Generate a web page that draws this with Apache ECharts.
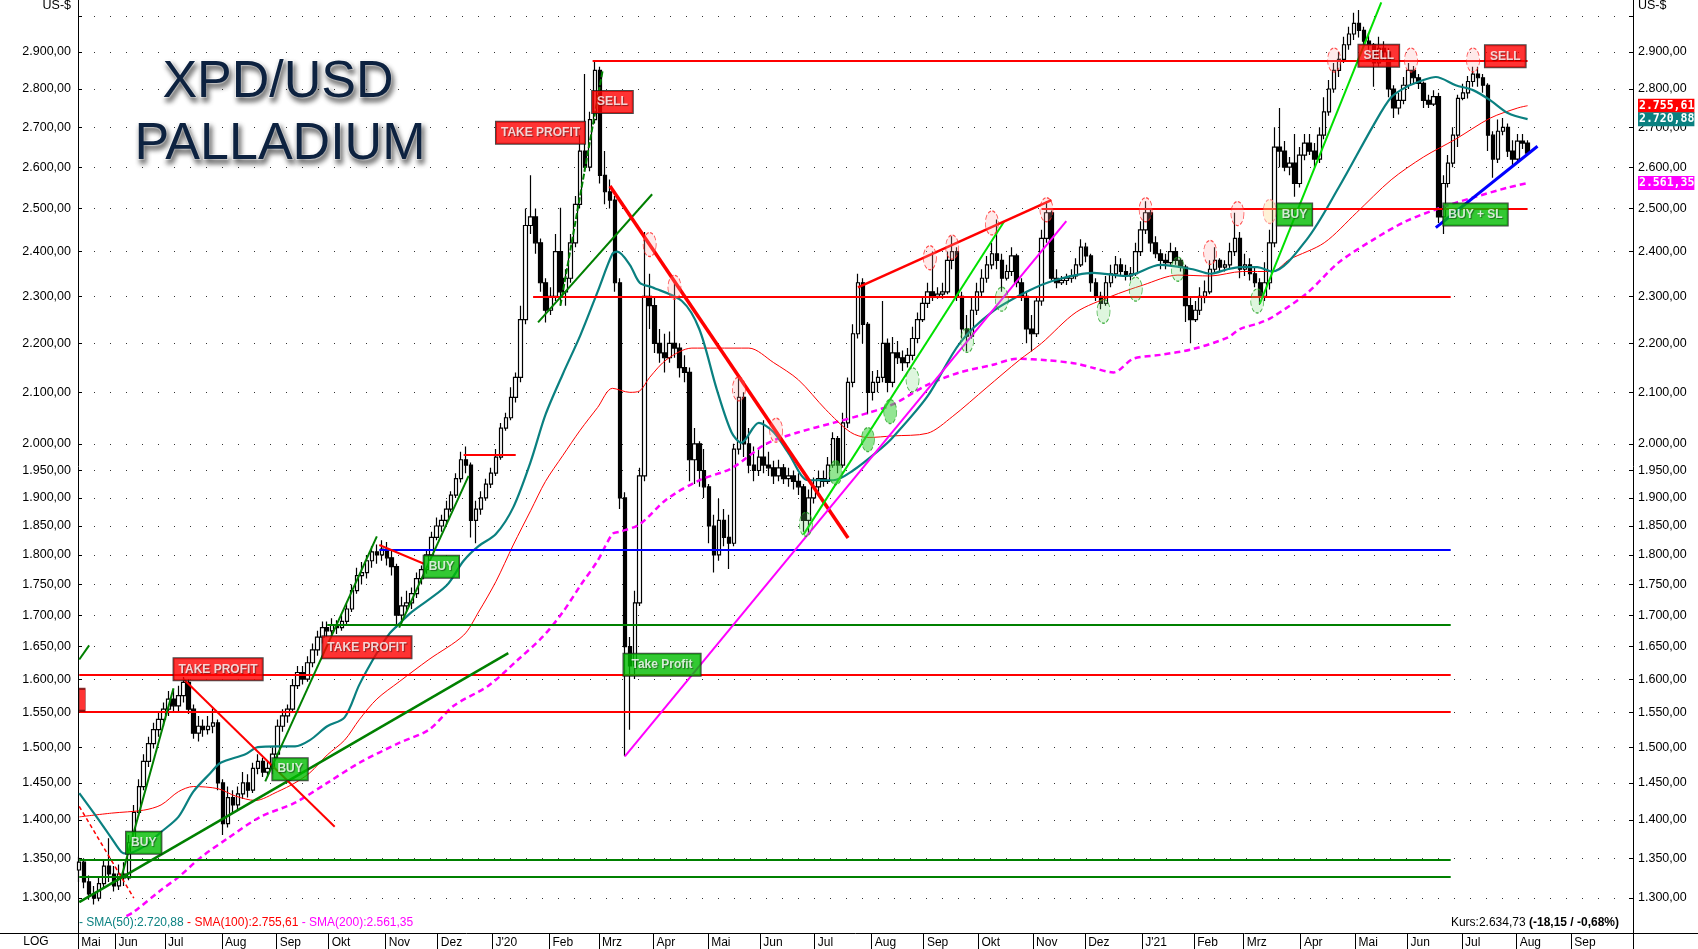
<!DOCTYPE html>
<html><head><meta charset="utf-8">
<script src="https://cdn.jsdelivr.net/npm/echarts@6/dist/echarts.min.js"></script>
<style>html,body{margin:0;padding:0;background:#fff}#c{width:1698px;height:949px}</style>
</head><body><div id="c"></div>
<script>
// ---------------- DATA ----------------
const firstDay = '2019-05-13';      // first trading day on the axis
const totalDays = 627;              // weekdays shown on the axis (to early Oct 2021)
const barStep = 2;                  // each candle below = two trading days
const segStarts = [0, 130, 252, 372, 472];
// [open, close, low, high]
const segA = [[1335,1345,1320,1352],[1345,1320,1312,1350],[1320,1305,1298,1328],[1305,1300,1292,1315],[1300,1318,1296,1325],[1318,1340,1312,1348],[1340,1330,1320,1376],[1330,1315,1308,1340],[1315,1330,1310,1342],[1330,1325,1315,1345],
[1325,1370,1322,1380],[1370,1410,1365,1420],[1410,1445,1405,1455],[1445,1480,1440,1490],[1480,1505,1472,1515],[1505,1525,1498,1535],[1525,1540,1515,1550],[1540,1555,1530,1565],[1555,1570,1545,1582],[1570,1560,1550,1585],
[1560,1575,1552,1590],[1575,1595,1565,1603],[1595,1555,1548,1600],[1555,1520,1512,1562],[1520,1530,1508,1545],[1530,1525,1515,1540],[1525,1530,1518,1545],[1530,1535,1520,1556],[1535,1450,1440,1540],[1450,1395,1380,1455],
[1395,1430,1390,1445],[1430,1420,1410,1440],[1420,1435,1412,1445],[1435,1450,1428,1465],[1450,1440,1430,1462],[1440,1470,1436,1478],[1470,1480,1462,1490],[1480,1465,1458,1485],[1465,1470,1458,1480],[1470,1490,1462,1500],
[1490,1530,1485,1540],[1530,1545,1522,1555],[1545,1555,1535,1562],[1555,1590,1550,1600],[1590,1610,1585,1620],[1610,1600,1592,1620],[1600,1625,1596,1635],[1625,1645,1618,1655],[1645,1665,1636,1675],[1665,1680,1655,1690],
[1680,1675,1665,1690],[1675,1685,1668,1695],[1685,1680,1670,1692],[1680,1690,1675,1700],[1690,1710,1685,1720],[1710,1740,1705,1750],[1740,1765,1735,1778],[1765,1770,1750,1788],[1770,1790,1760,1800],[1790,1805,1778,1815],
[1805,1800,1785,1818],[1800,1810,1790,1825],[1810,1795,1782,1822],[1795,1780,1765,1810],[1780,1700,1680,1785]];
const segB = [[1700,1715,1685,1730],[1715,1720,1705,1740],[1720,1735,1710,1745],[1735,1760,1728,1770],[1760,1775,1750,1782],[1775,1800,1768,1810],[1800,1830,1795,1840],[1830,1850,1825,1865],[1850,1860,1840,1870],[1860,1880,1852,1895],
[1880,1905,1875,1912],[1905,1935,1900,1945],[1935,1970,1928,1985],[1970,1960,1945,1995],[1960,1860,1830,1965],[1860,1880,1820,1895],[1880,1900,1870,1912],[1900,1925,1895,1935],[1925,1945,1918,1955],[1945,1975,1940,1990],
[1975,2030,1970,2040],[2030,2050,2025,2060],[2050,2090,2045,2110],[2090,2130,2080,2140],[2130,2250,2120,2280],[2250,2460,2240,2500],[2460,2480,2440,2580],[2480,2420,2395,2500],[2420,2330,2310,2430],[2330,2270,2244,2340],
[2270,2300,2260,2320],[2300,2400,2290,2440],[2400,2310,2280,2502],[2310,2340,2280,2360],[2340,2420,2330,2440],[2420,2510,2410,2530],[2510,2640,2500,2680],[2640,2600,2590,2840],[2600,2720,2590,2740],[2720,2850,2710,2875],
[2850,2580,2560,2860],[2580,2540,2510,2640],[2540,2520,2500,2570],[2520,2330,2310,2530],[2330,1900,1880,2340],[1900,1650,1487,1910],[1650,1620,1525,1665],[1620,1720,1600,1740],[1720,1940,1715,1955],[1940,2300,1930,2445],
[2300,2280,2230,2350],[2280,2200,2180,2300],[2200,2180,2160,2230],[2180,2170,2140,2220],[2170,2200,2160,2225],[2200,2190,2170,2335],[2190,2150,2130,2200],[2150,2140,2120,2175],[2140,1970,1930,2150],[1970,2000,1925,2030],
[2000,1950,1920,2005]];
const segC = [[1950,1920,1900,1990],[1920,1850,1820,1925],[1850,1800,1770,1870],[1800,1860,1790,1898],[1860,1830,1815,1880],[1830,1820,1776,1870],[1820,1990,1815,2000],[1990,2090,1980,2130],[2090,2000,1975,2100],[2000,1960,1945,2030],
[1960,1950,1930,1995],[1950,1975,1940,1990],[1975,1960,1945,2045],[1960,1955,1940,1985],[1955,1940,1925,1968],[1940,1955,1930,1970],[1955,1935,1925,1962],[1935,1940,1920,1955],[1940,1930,1915,1950],[1930,1920,1905,1945],
[1920,1860,1840,1925],[1860,1900,1835,1915],[1900,1920,1890,1937],[1920,1935,1910,1950],[1935,1930,1920,1950],[1930,1960,1925,1975],[1960,2010,1955,2022],[2010,1960,1945,2015],[1960,2040,1955,2060],[2040,2120,2030,2130],
[2120,2220,2110,2240],[2220,2330,2210,2350],[2330,2240,2200,2340],[2240,2100,2057,2245],[2100,2120,2084,2143],[2120,2130,2100,2145],[2130,2200,2120,2290],[2200,2120,2100,2210],[2120,2180,2110,2213],[2180,2170,2157,2205],
[2170,2160,2143,2185],[2160,2175,2150,2190],[2175,2210,2165,2235],[2210,2250,2200,2265],[2250,2285,2245,2300],[2285,2310,2275,2330],[2310,2300,2290,2400],[2300,2305,2295,2320],[2305,2310,2295,2330],[2310,2380,2305,2400],
[2380,2400,2360,2435],[2400,2300,2290,2410],[2300,2230,2210,2310],[2230,2215,2183,2260],[2215,2270,2210,2300],[2270,2310,2260,2330],[2310,2340,2300,2360],[2340,2370,2330,2390],[2370,2395,2360,2420],[2395,2380,2360,2474]];
const segD = [[2380,2340,2310,2395],[2340,2355,2335,2370],[2355,2390,2345,2410],[2390,2330,2320,2395],[2330,2300,2290,2340],[2300,2230,2200,2310],[2230,2220,2183,2260],[2220,2290,2213,2300],[2290,2430,2280,2450],[2430,2490,2420,2517],
[2490,2340,2335,2495],[2340,2330,2318,2360],[2330,2335,2325,2345],[2335,2340,2325,2350],[2340,2345,2330,2360],[2345,2370,2338,2385],[2370,2410,2365,2428],[2410,2390,2376,2420],[2390,2330,2310,2395],[2330,2300,2290,2340],
[2300,2285,2272,2310],[2285,2330,2280,2345],[2330,2350,2320,2370],[2350,2370,2340,2390],[2370,2355,2345,2385],[2355,2345,2335,2370],[2345,2350,2335,2365],[2350,2400,2345,2420],[2400,2450,2390,2470],[2450,2490,2440,2517],
[2490,2420,2400,2500],[2420,2395,2385,2435],[2395,2380,2360,2405],[2380,2375,2360,2395],[2375,2400,2370,2420],[2400,2380,2370,2410],[2380,2365,2355,2385],[2365,2280,2245,2370],[2280,2250,2200,2300],[2250,2270,2245,2290],
[2270,2300,2260,2320],[2300,2310,2285,2335],[2310,2360,2305,2380],[2360,2380,2350,2410],[2380,2365,2355,2385],[2365,2370,2355,2380],[2370,2400,2360,2420],[2400,2430,2390,2490],[2430,2360,2340,2445],[2360,2370,2345,2395]];
const segE = [[2370,2350,2335,2385],[2350,2330,2320,2365],[2330,2300,2282,2340],[2300,2330,2290,2376],[2330,2420,2315,2450],[2420,2650,2410,2700],[2650,2640,2600,2750],[2640,2600,2590,2665],[2600,2610,2580,2625],[2610,2560,2528,2683],
[2560,2630,2550,2650],[2630,2660,2617,2683],[2660,2640,2630,2683],[2640,2620,2600,2660],[2620,2680,2610,2700],[2680,2740,2670,2778],[2740,2800,2730,2824],[2800,2850,2790,2870],[2850,2880,2832,2900],[2880,2920,2870,2942],
[2920,2950,2906,2970],[2950,2980,2933,3010],[2980,2960,2940,3018],[2960,2930,2914,2970],[2930,2920,2906,2952],[2920,2870,2806,2925],[2870,2910,2860,2942],[2910,2900,2878,2930],[2900,2800,2778,2910],[2800,2750,2724,2810],
[2750,2770,2733,2790],[2770,2810,2760,2832],[2810,2850,2800,2870],[2850,2830,2815,2862],[2830,2815,2800,2840],[2815,2770,2750,2820],[2770,2760,2750,2785],[2760,2780,2755,2797],[2780,2480,2466,2790],[2480,2560,2440,2580],
[2560,2610,2550,2630],[2610,2680,2600,2700],[2680,2775,2650,2785],[2775,2790,2770,2814],[2790,2820,2775,2835],[2820,2840,2806,2860],[2840,2830,2806,2860],[2830,2810,2790,2840],[2810,2680,2640,2815],[2680,2620,2574,2690],
[2620,2690,2610,2720],[2690,2700,2680,2724],[2700,2640,2625,2710],[2640,2620,2600,2667],[2620,2665,2610,2683],[2665,2660,2645,2683],[2660,2635,2630,2667]];

// moving averages: [dayIndex, value]
const sma50 = [[0,1436],[7,1404],[13,1376],[17,1358],[19,1356],[26,1365],[33,1384],[40,1404],[46,1438],[53,1464],[57,1478],[67,1490],[72,1500],[80,1501],[87,1501],[93,1510],[100,1530],[107,1543],[113,1592],[120,1640],[125,1670],[129,1686],[134,1705],[148,1748],[155,1790],[161,1815],[168,1836],[175,1883],[182,1966],[188,2056],[195,2137],[202,2216],[209,2310],[215,2395],[217,2400],[222,2370],[226,2330],[231,2320],[243,2290],[250,2230],[257,2107],[263,2022],[267,2002],[274,2040],[280,2022],[286,1982],[294,1932],[304,1932],[312,1950],[323,1990],[328,2012],[342,2092],[355,2200],[368,2266],[382,2310],[393,2335],[409,2352],[422,2345],[436,2370],[449,2360],[456,2350],[463,2360],[468,2365],[475,2365],[481,2355],[495,2428],[508,2552],[522,2707],[529,2778],[535,2805],[542,2824],[547,2832],[555,2810],[562,2797],[569,2770],[576,2737],[584,2721]];
const sma100 = [[0,1404],[13,1409],[26,1413],[33,1420],[40,1438],[46,1445],[56,1442],[63,1432],[71,1426],[80,1438],[87,1450],[93,1464],[100,1489],[107,1510],[113,1540],[120,1570],[129,1596],[141,1630],[155,1668],[161,1705],[168,1755],[175,1817],[182,1877],[188,1930],[195,1978],[202,2026],[209,2070],[215,2108],[222,2100],[226,2103],[230,2130],[237,2167],[247,2190],[257,2190],[270,2190],[280,2160],[290,2125],[301,2066],[311,2022],[318,2012],[328,2015],[342,2020],[352,2052],[366,2110],[379,2165],[388,2200],[402,2266],[416,2300],[429,2325],[443,2347],[456,2345],[469,2355],[481,2355],[488,2382],[502,2420],[515,2490],[529,2569],[542,2625],[555,2670],[569,2724],[580,2750],[584,2756]];
const sma200 = [[19,1278],[22,1283],[33,1310],[40,1326],[49,1351],[60,1376],[73,1404],[87,1423],[100,1450],[113,1478],[129,1506],[141,1525],[151,1560],[165,1590],[177,1630],[187,1666],[195,1705],[202,1748],[209,1790],[215,1836],[218,1840],[226,1853],[237,1898],[250,1932],[263,1954],[277,2000],[290,2022],[304,2040],[315,2055],[328,2076],[342,2115],[355,2140],[368,2155],[378,2168],[390,2165],[402,2158],[409,2149],[417,2140],[425,2168],[436,2176],[449,2188],[463,2212],[468,2230],[476,2243],[481,2255],[495,2307],[508,2376],[522,2428],[535,2470],[549,2502],[562,2526],[576,2550],[584,2561]];
const smaLast = [2720.88, 2755.61, 2561.35];       // SMA50, SMA100, SMA200
const lastPrice = 2634.73, lastChange = -18.15, lastChangePct = -0.68;

// horizontal levels: [price, fromDay, toDay]
const hLevels = [[2875,207,584],[2500,388,584],[2300,183,553],[1808,121,553],[1685,100,553],[1607,0,553],[1551,0,553],[1348,0,553],[1326,0,553],[1980,155,176]];
// trend lines: [day1, price1, day2, price2]
const trends = [[0,1418,22,1300],[0,1630,4,1652],[0,1295,173,1640],[17,1326,38,1586],[42,1600,103,1391],[75,1452,120,1832],[121,1817,139,1785],[129,1680,157,1940],[185,2244,231,2534],[194,2280,211,2848],[214,2554,310,1829],[220,1487,398,2470],[292,1835,373,2470],[314,2320,392,2520],[476,2284,525,3040],[547,2455,588,2652]];
// signal boxes: [day, price, text]
const signals = [[26,1370,'BUY'],[56,1615,'TAKE PROFIT'],[85,1469,'BUY'],[116,1649,'TAKE PROFIT'],[146,1780,'BUY'],[186,2686,'TAKE PROFIT'],[215,2766,'SELL'],[235,1622,'Take Profit'],[490,2486,'BUY'],[524,2890,'SELL'],[563,2486,'BUY + SL'],[575,2888,'SELL']];
const peakMarks = [[230,2416],[240,2320],[266,2107],[281,2026],[343,2386],[352,2410],[368,2466],[390,2497],[430,2497],[456,2398],[467,2488],[506,2878],[537,2878],[562,2878]];
const entryMarks = [[480,2493]];
const troughStrong = [[305,1946],[318,2008],[327,2062]];
const troughLight = [[293,1853],[336,2125],[358,2206],[372,2294],[413,2268],[426,2316],[443,2360],[475,2290]];
const yTicks = [1300,1350,1400,1450,1500,1550,1600,1650,1700,1750,1800,1850,1900,1950,2000,2100,2200,2300,2400,2500,2600,2700,2800,2900,3000];
const yLabels = [1300,1350,1400,1450,1500,1550,1600,1650,1700,1750,1800,1850,1900,1950,2000,2100,2200,2300,2400,2500,2600,2700,2800,2900];
const unitLabelValue = 3032;
const yMin = 1257.6, yMax = 3046.6;
const monthNames = ['Jan','Feb','Mrz','Apr','Mai','Jun','Jul','Aug','Sep','Okt','Nov','Dez'];

// ---------------- BUILD ----------------
const dates = [];
{ let t = Date.UTC(2019,4,13);
  while (dates.length < totalDays) { const d = new Date(t); const w = d.getUTCDay();
    if (w !== 0 && w !== 6) dates.push(d.toISOString().slice(0,10)); t += 86400000; } }
const labelIdx = new Set([0]);
for (let i = 1; i < dates.length; i++) if (dates[i].slice(5,7) !== dates[i-1].slice(5,7) && i < 615) labelIdx.add(i);
const monthLabel = ds => { const m = +ds.slice(5,7); return m === 1 ? "J'" + ds.slice(2,4) : monthNames[m-1]; };
const de = (v, dec) => { const f = Math.abs(v).toFixed(dec); const [a,b] = f.split('.'); return (v<0?'-':'') + a.replace(/\B(?=(\d{3})+(?!\d))/g,'.') + (b!==undefined?','+b:''); };
const D = i => dates[Math.max(0, Math.min(totalDays-1, Math.round(i)))];

const candleRows = [];
[segA,segB,segC,segD,segE].forEach((seg,s) => seg.forEach((b,j) => candleRows.push([D(segStarts[s]+j*barStep), b[0], b[1], b[2], b[3]])));
const toLine = arr => arr.map(p => [D(p[0]), p[1]]);

const FONT = '"Liberation Sans", Arial, Helvetica, sans-serif';
const hColors = ['#ff0000','#ff0000','#ff0000','#0000ff','#008000','#ff0000','#ff0000','#008000','#008000','#ff0000'];
const trendStyle = [
  {color:'#ff0000',width:1.5,type:[4,3]},{color:'#008000',width:2},{color:'#008000',width:2.5},{color:'#008000',width:2},
  {color:'#ff0000',width:2},{color:'#008000',width:2},{color:'#ff0000',width:2},{color:'#008000',width:2},
  {color:'#008000',width:2},{color:'#008000',width:2,type:[6,2]},{color:'#ff0000',width:3.5},{color:'#ff00ff',width:2},
  {color:'#00e000',width:2},{color:'#ff0000',width:2.5},{color:'#00e000',width:2},{color:'#0000ff',width:3}];

const markLines = [];
hLevels.forEach((h,k) => markLines.push([{coord:[D(h[1]),h[0]], lineStyle:{color:hColors[k],width:2,type:'solid'}},{coord:[D(h[2]),h[0]]}]));
trends.forEach((t,k) => markLines.push([{coord:[D(t[0]),t[1]], lineStyle:{color:trendStyle[k].color,width:trendStyle[k].width,type:trendStyle[k].type||'solid'}},{coord:[D(t[2]),t[3]]}]));

const sigLabel = txt => {
  const green = txt.indexOf('BUY') === 0 || txt === 'Take Profit';
  return {show:true, position:'inside', formatter: txt, color:'#fff', fontWeight:'bold', fontSize:12, fontFamily:FONT,
    backgroundColor: green ? '#00bb00' : '#ff0000', borderColor:'#1a1a1a', borderWidth:1,
    padding: txt === 'Take Profit' ? [4,8,4,8] : [4,5,4,5], lineHeight:14,
    textShadowColor:'rgba(0,0,0,0.55)', textShadowBlur:1, textShadowOffsetX:1, textShadowOffsetY:1};
};
const ellipse = (data, fill, border) => ({type:'scatter', z:6, silent:true, symbol:'circle', symbolSize:[13,24], data: toLine(data),
  itemStyle:{color:fill, borderColor:border, borderType:'dashed', borderWidth:1}});

const yAxisBase = pos => ({type:'log', logBase:10, min:yMin, max:yMax, position:pos,
  axisLine:{show:true, lineStyle:{color:'#000', width:1}},
  axisTick:{show:true, inside:true, length:4, customValues: yTicks, lineStyle:{color:'#000'}},
  axisLabel:{customValues: yLabels.concat([unitLabelValue]), formatter: v => v > 3010 ? 'US-$' : de(v,2), margin: pos==='left'?7:5,
    fontSize:12.5, color:'#000', fontFamily:FONT},
  splitLine:{show: pos==='left', lineStyle:{color:'#333', width:1, type:[1,15]}}, minorTick:{show:false}, minorSplitLine:{show:false}});

const chart = echarts.init(document.getElementById('c'));
chart.setOption({
  animation:false, backgroundColor:'#fff', textStyle:{fontFamily:FONT},
  grid:{left:78, right:65, top:0, bottom:16, containLabel:false, outerBoundsMode:'none'},
  xAxis:{type:'category', data:dates, boundaryGap:true,
    axisLine:{show:true, lineStyle:{color:'#000'}},
    axisTick:{show:true, alignWithLabel:false, interval:(i)=>labelIdx.has(i), length:16, lineStyle:{color:'#000'}},
    axisLabel:{show:true, interval:(i)=>labelIdx.has(i), formatter:v=>monthLabel(v), align:'left', margin:4, fontSize:12, color:'#000', fontFamily:FONT, padding:[0,0,0,2]},
    splitLine:{show:false}},
  yAxis:[yAxisBase('left'), yAxisBase('right')],
  series:[
    {type:'candlestick', name:'XPD', data:candleRows, encode:{x:0, y:[1,2,3,4]}, barWidth:4, z:3,
      itemStyle:{color:'#ffffff', color0:'#000000', borderColor:'#000000', borderColor0:'#000000', borderWidth:1.2}},
    {type:'line', name:'SMA(200)', data:toLine(sma200), showSymbol:false, smooth:0.3, z:4, lineStyle:{color:'#ff00ff', width:2.5, type:[6,4]}},
    {type:'line', name:'SMA(100)', data:toLine(sma100), showSymbol:false, smooth:0.3, z:4, lineStyle:{color:'#ff0000', width:1}},
    {type:'line', name:'SMA(50)', data:toLine(sma50), showSymbol:false, smooth:0.3, z:4, lineStyle:{color:'#0a8080', width:2.2}},
    {type:'line', name:'annotations', data:[], z:5, markLine:{silent:true, symbol:['none','none'], label:{show:false}, emphasis:{disabled:true}, animation:false, data:markLines}},
    ellipse(peakMarks, 'rgba(255,170,170,0.3)', '#ff2020'),
    ellipse(entryMarks, 'rgba(255,220,140,0.45)', '#ff8080'),
    ellipse(troughStrong, 'rgba(60,210,60,0.7)', '#20a020'),
    ellipse(troughLight, 'rgba(120,220,120,0.3)', '#20a020'),
    {type:'scatter', z:10, silent:true, symbol:'rect', symbolSize:[1,1], itemStyle:{color:'rgba(0,0,0,0)'},
      data: signals.map(s => ({value:[D(s[0]), s[1]], label: sigLabel(s[2])}))},
    {type:'scatter', z:9, silent:true, symbol:'rect', symbolSize:[6,22], symbolOffset:[3,0], itemStyle:{color:'#ff0000', borderColor:'#600', borderWidth:1},
      data:[[D(0),1569]]}
  ]
});

const yPix = v => chart.convertToPixel({yAxisIndex:0}, v);
const boxColors = ['#0a8080','#ff0000','#ff00ff'];
const boxes = [1,0,2].map(k => ({type:'text', z:30, x:1638, y:yPix(smaLast[k]),
  style:{text:de(smaLast[k],2), font:'bold 11.5px "DejaVu Sans Mono", monospace', fill:'#fff', backgroundColor:boxColors[k], padding:[1,0,1,1], align:'left', verticalAlign:'middle'}}));
const titleStyle = t => ({text:t, font:'52px ' + FONT, fill:'#0d2240', stroke:'rgba(255,255,255,0.9)', lineWidth:2, align:'center', verticalAlign:'middle', textAlign:'center', textVerticalAlign:'middle',
  textShadowColor:'rgba(0,0,0,0.5)', textShadowBlur:5, textShadowOffsetX:2, textShadowOffsetY:4});
chart.setOption({graphic:[
  {type:'text', z:20, x:278, y:83, style:titleStyle('XPD/USD')},
  {type:'text', z:20, x:280, y:145, style:titleStyle('PALLADIUM')},
  {type:'text', z:20, x:79, y:923, style:{text:'{a|- SMA(50):' + de(smaLast[0],2) + '} {b|- SMA(100):' + de(smaLast[1],2) + '} {c|- SMA(200):' + de(smaLast[2],2) + '}',
     font:'12px ' + FONT, verticalAlign:'middle', rich:{a:{fill:'#0a8080', color:'#0a8080'}, b:{fill:'#ff0000', color:'#ff0000'}, c:{fill:'#ff00ff', color:'#ff00ff'}}}},
  {type:'text', z:20, x:1619, y:923, style:{text:'{n|Kurs:' + de(lastPrice,2) + ' }{b|(' + de(lastChange,2) + ' / ' + de(lastChangePct,2) + '%)}',
     font:'12px ' + FONT, align:'right', verticalAlign:'middle', rich:{n:{fill:'#000', color:'#000'}, b:{fill:'#000', color:'#000', fontWeight:'bold', font:'bold 12px ' + FONT}}}},
  {type:'text', z:20, x:36, y:942, style:{text:'LOG', font:'12px ' + FONT, fill:'#000', align:'center', verticalAlign:'middle'}},
  {type:'line', z:20, shape:{x1:0, y1:933.5, x2:78, y2:933.5}, style:{stroke:'#000', lineWidth:1}},
  {type:'line', z:20, shape:{x1:1633, y1:933.5, x2:1698, y2:933.5}, style:{stroke:'#000', lineWidth:1}},
  {type:'line', z:20, shape:{x1:1633.5, y1:933, x2:1633.5, y2:949}, style:{stroke:'#000', lineWidth:1}}
].concat(boxes)});
</script></body></html>
